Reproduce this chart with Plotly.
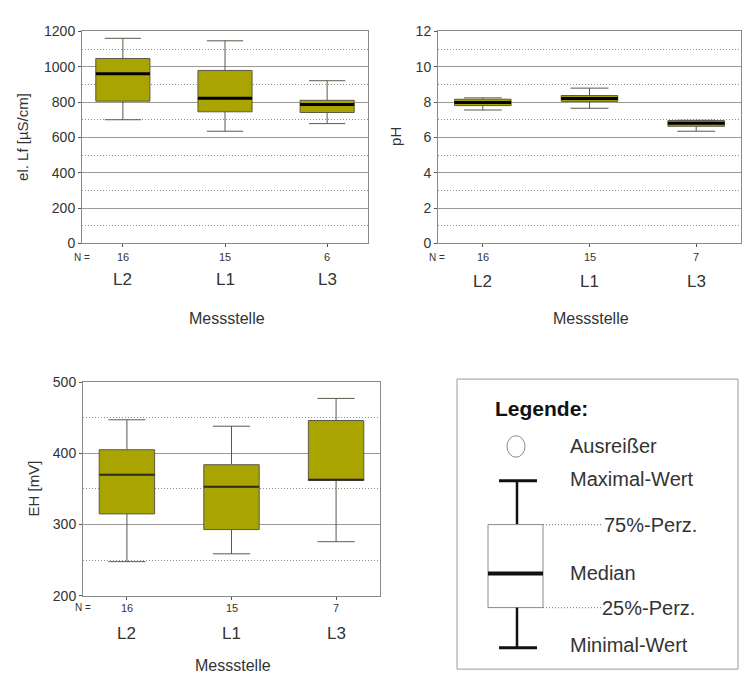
import plotly.graph_objects as go

# ---- data -------------------------------------------------------------
stations = ["L2", "L1", "L3"]

# electrical conductivity [µS/cm]
lf_n = [16, 15, 6]
lf_min = [700, 635, 678]
lf_q1 = [805, 745, 741]
lf_med = [961, 822, 786]
lf_q3 = [1047, 979, 810]
lf_max = [1161, 1147, 921]

# pH
ph_n = [16, 15, 7]
ph_min = [7.55, 7.65, 6.35]
ph_q1 = [7.80, 8.04, 6.63]
ph_med = [7.97, 8.20, 6.80]
ph_q3 = [8.16, 8.37, 6.95]
ph_max = [8.24, 8.79, 6.97]

# redox potential EH [mV]
eh_n = [16, 15, 7]
eh_min = [248, 259, 276]
eh_q1 = [315, 293, 362]
eh_med = [370, 353, 363]
eh_q3 = [405, 384, 446]
eh_max = [447, 438, 477]

W, H = 742, 682
FONT = "Liberation Sans, Arial, sans-serif"
FILL = "#A9A400"
GRID = "#9a9a9a"
TXT = "#333333"
BOXW = 0.53
DOTS = "1px,2px"


def px(x):
    return x / W


def py(y):
    return 1 - y / H


fig = go.Figure()

panels = [
    # (xaxis id, yaxis id, n, min, q1, med, q3, max, median width, median colour)
    ("x", "y", lf_n, lf_min, lf_q1, lf_med, lf_q3, lf_max, 3, "#000000"),
    ("x2", "y2", ph_n, ph_min, ph_q1, ph_med, ph_q3, ph_max, 3, "#000000"),
    ("x3", "y3", eh_n, eh_min, eh_q1, eh_med, eh_q3, eh_max, 2, "#2a2a2a"),
]

for xa, ya, n, mn, q1, md, q3, mx, mw, mc in panels:
    for i, name in enumerate(stations):
        fig.add_trace(go.Box(
            x=[i], q1=[q1[i]], median=[md[i]], q3=[q3[i]],
            lowerfence=[mn[i]], upperfence=[mx[i]],
            width=BOXW, whiskerwidth=0.67, boxpoints=False,
            fillcolor=FILL, line=dict(color="#5a5a4a", width=1),
            name=name, showlegend=False, xaxis=xa, yaxis=ya,
            hoverinfo="skip",
        ))
        fig.add_trace(go.Scatter(
            x=[i - BOXW / 2, i + BOXW / 2], y=[md[i], md[i]],
            mode="lines", line=dict(color=mc, width=mw),
            showlegend=False, xaxis=xa, yaxis=ya, hoverinfo="skip",
        ))


def xaxis(dom):
    return dict(domain=dom, range=[-0.42, 2.42], tickvals=[0, 1, 2],
                showticklabels=False, ticks="outside", ticklen=3,
                tickcolor="#555", showline=True, mirror=True,
                linecolor="#8a8a8a", linewidth=1, showgrid=False,
                zeroline=False, fixedrange=True)


def yaxis(dom, rng, dtick, minor, anchor):
    return dict(domain=dom, range=rng, dtick=dtick, ticks="outside",
                ticklen=3, tickcolor="#555", showline=True, mirror=True,
                linecolor="#8a8a8a", linewidth=1, showgrid=True,
                gridcolor=GRID, gridwidth=1, zeroline=False,
                tickfont=dict(family=FONT, size=14, color=TXT),
                minor=dict(dtick=minor, showgrid=True, griddash=DOTS,
                           gridcolor="#8f8f8f", gridwidth=1),
                anchor=anchor, fixedrange=True)


xa1 = xaxis([px(82), px(368)])
xa1["range"] = [-0.40, 2.40]
fig.update_layout(
    width=W, height=H, margin=dict(l=0, r=0, t=0, b=0),
    paper_bgcolor="white", plot_bgcolor="white",
    font=dict(family=FONT, color=TXT),
    xaxis=dict(xa1, anchor="y"),
    yaxis=yaxis([py(241), py(24)], [0, 1200], 200, 100, "x"),
    xaxis2=dict(xaxis([px(438), px(741)]), anchor="y2"),
    yaxis2=yaxis([py(241), py(24)], [0, 12], 2, 1, "x2"),
    xaxis3=dict(xaxis([px(83), px(380)]), anchor="y3"),
    yaxis3=yaxis([py(602), py(383)], [200, 500], 100, 50, "x3"),
)

ann = []


def text(x, y, s, size, anchor="center", angle=0, bold=False, color=TXT):
    ann.append(dict(x=px(x), y=py(y), xref="paper", yref="paper",
                    text=f"<b>{s}</b>" if bold else s, showarrow=False,
                    xanchor=anchor, yanchor="middle", textangle=angle,
                    font=dict(family=FONT, size=size, color=color)))


def axis_labels(xref, counts, n_x, n_y, lab_y):
    text(n_x, n_y, "N =", 10)
    for i, name in enumerate(stations):
        ann.append(dict(x=i, y=py(n_y), xref=xref, yref="paper",
                        text=str(counts[i]), showarrow=False,
                        yanchor="middle", font=dict(family=FONT, size=11,
                                                    color=TXT)))
        ann.append(dict(x=i, y=py(lab_y), xref=xref, yref="paper",
                        text=name, showarrow=False, yanchor="middle",
                        font=dict(family=FONT, size=17, color=TXT)))


axis_labels("x", lf_n, 82, 255, 278)
axis_labels("x2", ph_n, 437, 255, 280)
axis_labels("x3", eh_n, 83, 614, 641)

text(227, 318, "Messstelle", 16)
text(591, 318, "Messstelle", 16)
text(233, 673, "Messstelle", 16)

text(23, 132, "el. Lf [µS/cm]", 15, angle=-90)
text(396, 132, "pH", 15, angle=-90)
text(33, 492, "EH [mV]", 15, angle=-90)

# ---- key explaining the box-plot elements ---------------------------
shapes = []


def line(x0, y0, x1, y1, color="#111", width=3, dash="solid"):
    shapes.append(dict(type="line", xref="paper", yref="paper",
                       x0=px(x0), y0=py(y0), x1=px(x1), y1=py(y1),
                       line=dict(color=color, width=width, dash=dash)))


shapes.append(dict(type="rect", xref="paper", yref="paper",
                   x0=px(457), y0=py(677), x1=px(738), y1=py(380),
                   line=dict(color="#9a9a9a", width=1),
                   fillcolor="white", layer="below"))
shapes.append(dict(type="circle", xref="paper", yref="paper",
                   x0=px(507), y0=py(460), x1=px(525), y1=py(438),
                   line=dict(color="#8a8a8a", width=1)))
line(499, 484, 537, 484)
line(517, 484, 517, 529, width=2.5)
shapes.append(dict(type="rect", xref="paper", yref="paper",
                   x0=px(488), y0=py(614), x1=px(543), y1=py(529),
                   line=dict(color="#8a8a8a", width=1), fillcolor="white"))
line(488, 579, 543, 579, width=4)
line(543, 529, 601, 529, color="#8a8a8a", width=1.2, dash=DOTS)
line(543, 614, 601, 614, color="#8a8a8a", width=1.2, dash=DOTS)
line(517, 614, 517, 655, width=2.5)
line(499, 655, 537, 655)

text(493, 410, "Legende:", 21, anchor="left", bold=True, color="#111")
text(568, 449, "Ausreißer", 20, anchor="left")
text(568, 482, "Maximal-Wert", 20, anchor="left")
text(602, 529, "75%-Perz.", 20, anchor="left")
text(568, 579, "Median", 20, anchor="left")
text(600, 614, "25%-Perz.", 20, anchor="left")
text(568, 652, "Minimal-Wert", 20, anchor="left")

fig.update_layout(annotations=ann, shapes=shapes)

fig.write_html("out.html")
